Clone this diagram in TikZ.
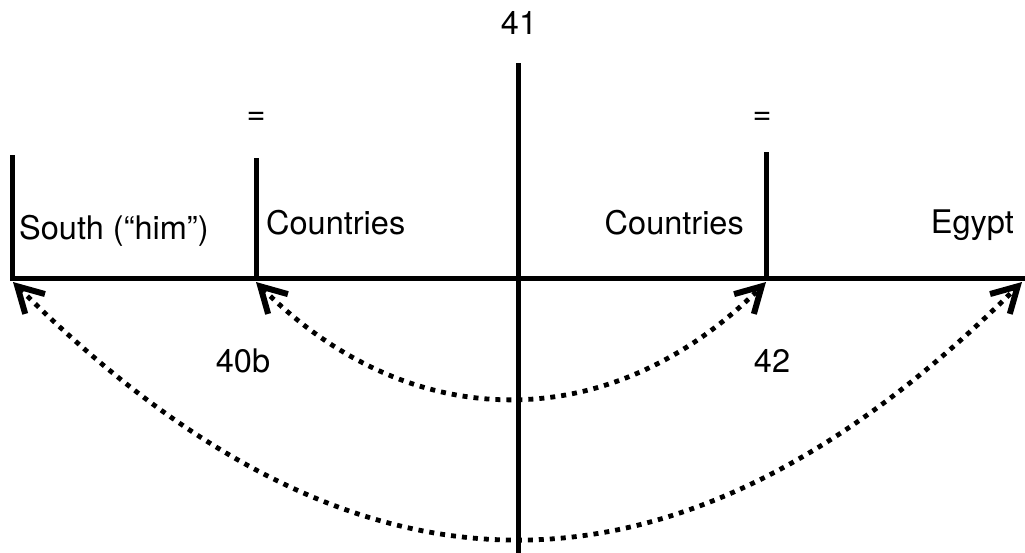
\documentclass[tikz,border=0pt]{standalone}
\usepackage{fontspec}
\setmainfont{TeX Gyre Heros}
\usetikzlibrary{arrows.meta}
\tikzset{
  bar/.style={line width=5pt, line join=miter},
  link/.style={line width=4.8pt, dash pattern=on 5pt off 6pt,
    {Straight Barb[length=25pt,width=28pt,line width=6pt,line cap=butt,line join=miter]}-{Straight Barb[length=25pt,width=28pt,line width=6pt,line cap=butt,line join=miter]}},
  lbl/.style={inner sep=0pt, font=\fontsize{32.5}{38}\selectfont}
}
\begin{document}
\begin{tikzpicture}[x=1pt,y=-1pt]
\useasboundingbox (0,0) rectangle (1025,552);
% frame coordinates
\coordinate (v1top) at (12,155);
\coordinate (v1bot) at (12,278);
\coordinate (hR) at (1027,278);
\coordinate (v2top) at (256,158);
\coordinate (v2bot) at (256,278);
\coordinate (v3top) at (766,152);
\coordinate (v3bot) at (766,278);
\coordinate (ctop) at (518,63);
\coordinate (cbot) at (518,554);
% arrow end points
\coordinate (aL) at (13,282);
\coordinate (aR) at (1022,282);
\coordinate (bL) at (256,282);
\coordinate (bR) at (766,282);
% lines
\draw[bar] (v1top) -- (v1bot) -- (hR);
\draw[bar] (v2top) -- (v2bot);
\draw[bar] (v3top) -- (v3bot);
\draw[bar] (ctop) -- (cbot);
% curved connectors
\draw[link] (bL) .. controls (411,437) and (611,437) .. (bR);
\draw[link] (aL) .. controls (357,624) and (678,624) .. (aR);
% labels
\node[lbl, anchor=base] (n41) at (519,34) {41};
\node[lbl] (eqL) at (256,118) {=};
\node[lbl] (eqR) at (762,118) {=};
\node[lbl, anchor=base west] (south) at (19,239) {South (“him”)};
\node[lbl, anchor=base west] (cL) at (266,234) {Countries};
\node[lbl, anchor=base east] (cR) at (744,234) {Countries};
\node[lbl, anchor=base east] (egypt) at (1014,233) {Egypt};
\node[lbl, anchor=base] (n40b) at (243,372) {40b};
\node[lbl, anchor=base] (n42) at (772,372) {42};
\end{tikzpicture}
\end{document}
